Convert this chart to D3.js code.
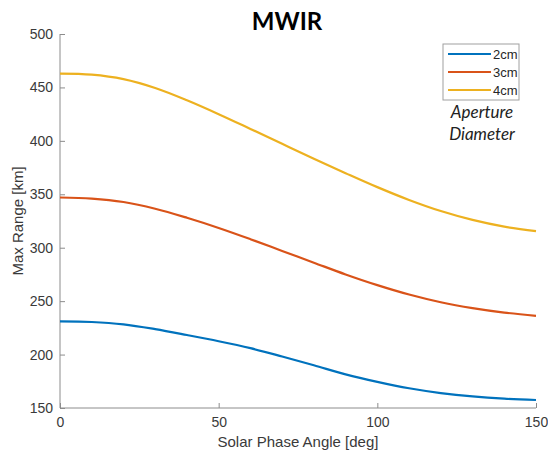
<!DOCTYPE html>
<html>
<head>
<meta charset="utf-8">
<script src="https://cdn.jsdelivr.net/npm/d3@7"></script>
<style>
  body { margin: 0; background: #fff; }
  svg { display: block; }
</style>
</head>
<body>
<svg id="chart" width="548" height="459"></svg>
<script>
// solar phase angle (deg)
const angles = [0, 10, 20, 30, 40, 50, 60, 70, 80, 90, 100, 110, 120, 130, 140, 150]

// max range (km) per aperture diameter
const range2cm = [231, 230.5, 228.3, 223.8, 218.3, 212.5, 206, 198.2, 190, 181.5, 174.5, 168.5, 164, 160.8, 158.7, 157.5]
const range3cm = [347, 346, 342.8, 336.5, 328, 318.5, 308, 297, 286, 275, 265, 256.2, 249, 243.5, 239.3, 236.3]
const range4cm = [463, 462, 457.8, 449.5, 438, 425, 411.2, 397.2, 383.3, 369.8, 356.7, 344.7, 334.3, 326, 319.7, 315.5]

const seriesNames = ['2cm', '3cm', '4cm']
const seriesColors = ['#0072BD', '#D95319', '#EDB120']
const xTicks = [0, 50, 100, 150]
const yTicks = [150, 200, 250, 300, 350, 400, 450, 500]

const series = [range2cm, range3cm, range4cm].map((vals, i) => ({
  name: seriesNames[i],
  color: seriesColors[i],
  points: vals.map((v, j) => ({x: angles[j], y: v}))
}))

const plotLeft = 60, plotRight = 536, plotTop = 34, plotBottom = 408
const axisColor = '#8c8c8c'
const textColor = '#3a3a3a'

const svg = d3.select('#chart')

const x = d3.scaleLinear().domain([0, 150]).range([plotLeft, plotRight])
const y = d3.scaleLinear().domain([150, 500]).range([plotBottom, plotTop])

// x axis, ticks pointing inward
const xAxis = svg.append('g')
  .attr('transform', `translate(0,${plotBottom})`)
  .call(d3.axisBottom(x).tickValues(xTicks).tickSize(-5).tickPadding(9).tickFormat(d3.format('d')))
xAxis.select('.domain').attr('stroke', axisColor).attr('d', `M${plotLeft},0H${plotRight}`)
xAxis.selectAll('.tick line').attr('stroke', axisColor)
xAxis.selectAll('.tick text')
  .attr('fill', textColor)
  .style('font-family', 'Liberation Sans, Arial, sans-serif')
  .style('font-size', '14px')

const yAxis = svg.append('g')
  .attr('transform', `translate(${plotLeft},0)`)
  .call(d3.axisLeft(y).tickValues(yTicks).tickSize(-5).tickPadding(7))
yAxis.select('.domain').attr('stroke', axisColor).attr('d', `M0,${plotTop}V${plotBottom}`)
yAxis.selectAll('.tick line').attr('stroke', axisColor)
yAxis.selectAll('.tick text')
  .attr('fill', textColor)
  .style('font-family', 'Liberation Sans, Arial, sans-serif')
  .style('font-size', '14px')

// curves
const line = d3.line()
  .x(d => x(d.x))
  .y(d => y(d.y))
  .curve(d3.curveCatmullRom)

svg.append('g')
  .selectAll('path')
  .data(series)
  .enter()
  .append('path')
  .attr('d', d => line(d.points))
  .attr('fill', 'none')
  .attr('stroke', d => d.color)
  .attr('stroke-width', 2.2)

// title + axis labels
svg.append('text')
  .attr('x', 287)
  .attr('y', 30)
  .attr('text-anchor', 'middle')
  .style('font-family', 'Lato, sans-serif')
  .style('font-weight', 'bold')
  .style('font-size', '24px')
  .attr('fill', '#000')
  .text('MWIR')

svg.append('text')
  .attr('x', (plotLeft + plotRight) / 2)
  .attr('y', 447)
  .attr('text-anchor', 'middle')
  .style('font-family', 'Liberation Sans, Arial, sans-serif')
  .style('font-size', '15px')
  .attr('fill', textColor)
  .text('Solar Phase Angle [deg]')

svg.append('text')
  .attr('transform', `translate(23,${(plotTop + plotBottom) / 2}) rotate(-90)`)
  .attr('text-anchor', 'middle')
  .style('font-family', 'Liberation Sans, Arial, sans-serif')
  .style('font-size', '15px')
  .attr('fill', textColor)
  .text('Max Range [km]')

// legend
const legend = svg.append('g').attr('transform', 'translate(443,44)')
legend.append('rect')
  .attr('width', 76)
  .attr('height', 56)
  .attr('fill', '#fff')
  .attr('stroke', '#a0a0a0')

const item = legend.selectAll('g.item')
  .data(series)
  .enter()
  .append('g')
  .attr('class', 'item')
  .attr('transform', (d, i) => `translate(0,${10 + i * 18})`)

item.append('line')
  .attr('x1', 5).attr('x2', 48)
  .attr('stroke', d => d.color)
  .attr('stroke-width', 2.2)

item.append('text')
  .attr('x', 50)
  .attr('y', 4.5)
  .style('font-family', 'Liberation Sans, Arial, sans-serif')
  .style('font-size', '13px')
  .attr('fill', '#262626')
  .text(d => d.name)

svg.append('text')
  .attr('x', 482)
  .attr('y', 118)
  .attr('text-anchor', 'middle')
  .style('font-family', 'Lato, sans-serif')
  .style('font-style', 'italic')
  .style('font-size', '17px')
  .attr('fill', '#222')
  .text('Aperture')

svg.append('text')
  .attr('x', 482)
  .attr('y', 140)
  .attr('text-anchor', 'middle')
  .style('font-family', 'Lato, sans-serif')
  .style('font-style', 'italic')
  .style('font-size', '17px')
  .attr('fill', '#222')
  .text('Diameter')
</script>
</body>
</html>
